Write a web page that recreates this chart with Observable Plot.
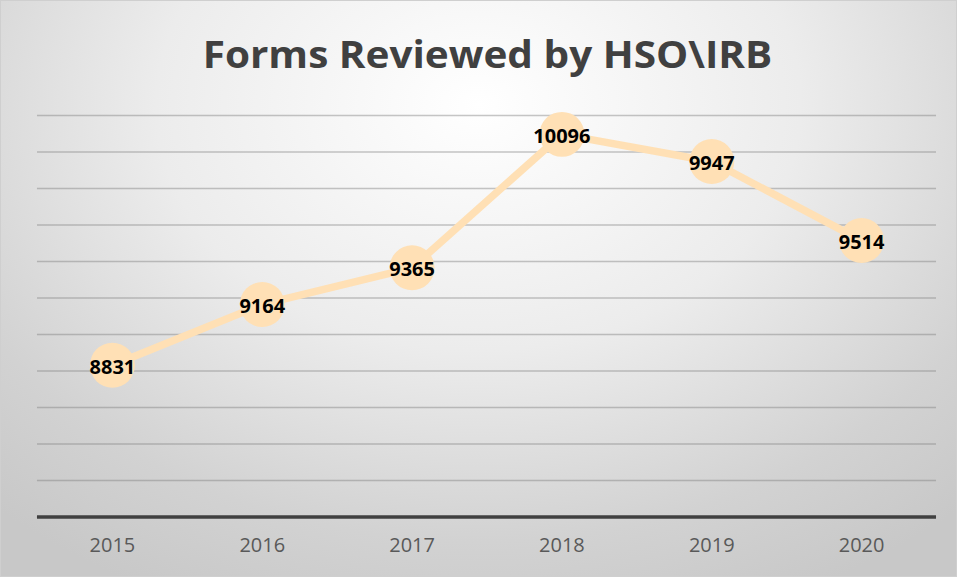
<!DOCTYPE html>
<html>
<head>
<meta charset="utf-8">
<script src="https://cdn.jsdelivr.net/npm/d3@7"></script>
<script src="https://cdn.jsdelivr.net/npm/@observablehq/plot@0.6"></script>
<style>
  html, body { margin: 0; padding: 0; background: #fff; }
  #chart {
    position: relative; width: 955px; height: 575px;
    border: 1px solid #cfcfcf;
    background: radial-gradient(ellipse 75% 95% at 50% 18%, #ffffff 0%, #ececec 45%, #d2d2d2 80%, #c8c8c8 100%);
    overflow: hidden;
  }
  #title {
    position: absolute; left: 18px; right: 0; top: 27px; text-align: center;
    font-family: "Open Sans", sans-serif; font-weight: 700; font-size: 37.5px;
    color: #404040; transform: scaleX(1.08); transform-origin: 50% 0;
  }
  #plot { position: absolute; left: -1px; top: -1px; }
  #plot svg { background: transparent; }
</style>
</head>
<body>
<div id="chart">
  <div id="title">Forms Reviewed by HSO\IRB</div>
  <div id="plot"></div>
</div>
<script>
const years = ["2015", "2016", "2017", "2018", "2019", "2020"];
const values = [8831, 9164, 9365, 10096, 9947, 9514];
const gridTicks = [8200, 8400, 8600, 8800, 9000, 9200, 9400, 9600, 9800, 10000, 10200];
const baseValue = [8000];

const data = years.map((y, i) => ({year: y, value: values[i]}));

const chart = Plot.plot({
  width: 957,
  height: 577,
  marginTop: 115,
  marginBottom: 60,
  marginLeft: 37,
  marginRight: 20,
  style: {background: "transparent", fontFamily: "'Open Sans', sans-serif"},
  x: {type: "band", domain: years, padding: 0, label: null},
  y: {domain: [8000, 10200], axis: null, label: null},
  marks: [
    Plot.ruleY(gridTicks, {stroke: "#808080", strokeOpacity: 0.45, strokeWidth: 1.5}),
    Plot.ruleY(baseValue, {stroke: "#404040", strokeWidth: 3.5}),
    Plot.axisX({tickSize: 0, tickPadding: 21, fontSize: 20, fill: "#595959", label: null}),
    Plot.line(data, {x: "year", y: "value", stroke: "#FFE0B5", strokeWidth: 7.5, strokeLinecap: "round"}),
    Plot.dot(data, {x: "year", y: "value", r: 22.5, fill: "#FFE0B5", stroke: "none"}),
    Plot.text(data, {x: "year", y: "value", text: d => String(d.value), fontSize: 20, fontWeight: "bold", fill: "#000", dy: 2})
  ]
});
document.getElementById("plot").appendChild(chart);
</script>
</body>
</html>
